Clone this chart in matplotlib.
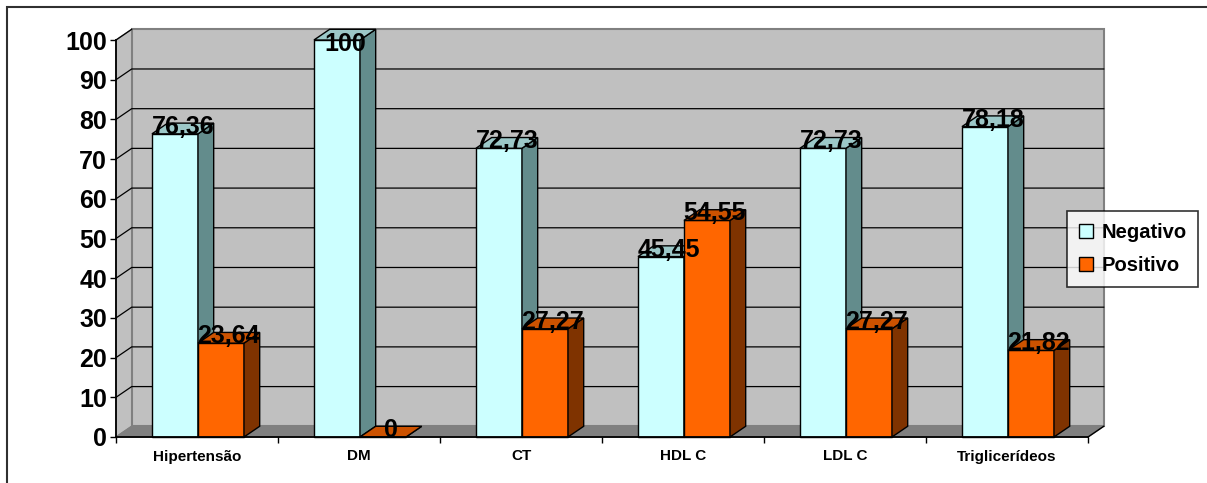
import matplotlib
matplotlib.use("Agg")
import matplotlib.pyplot as plt
from matplotlib.patches import Polygon, Rectangle, Patch

plt.rcParams['font.family'] = ['Liberation Sans', 'DejaVu Sans']
plt.rcParams['font.weight'] = 'bold'

categorias = ['Hipertensão', 'DM', 'CT', 'HDL C', 'LDL C', 'Triglicerídeos']
negativo = [76.36, 100, 72.73, 45.45, 72.73, 78.18]
positivo = [23.64, 0, 27.27, 54.55, 27.27, 21.82]
y_ticks = list(range(0, 101, 10))

# colours for each series: front, top, side
cores = {
    'Negativo': ('#CCFFFF', '#9CC8C8', '#638C8C'),
    'Positivo': ('#FF6600', '#CC5200', '#7F3300'),
}

W, H = 1207, 483
fig = plt.figure(figsize=(W / 100, H / 100), dpi=100)

# outer chart border
fig.patches.append(Rectangle((7 / W, -0.05), 1.1, (H - 7) / H + 0.05,
                             transform=fig.transFigure, fill=False,
                             edgecolor='#303030', lw=1.5))

ax = fig.add_axes([116 / W, 46 / H, 972 / W, 397 / H])
ax.set_xlim(0, len(categorias))
ax.set_ylim(0, 100)
ax.patch.set_visible(False)

dx, dy = 0.097, 2.7   # depth offset of the 3D box
n = len(categorias)

# walls and floor
ax.add_patch(Polygon([(0, 0), (dx, dy), (dx, 100 + dy), (0, 100)], closed=True,
                     facecolor='#C0C0C0', edgecolor='#808080', lw=1, zorder=0, clip_on=False))
ax.add_patch(Polygon([(dx, dy), (n + dx, dy), (n + dx, 100 + dy), (dx, 100 + dy)], closed=True,
                     facecolor='#C0C0C0', edgecolor='#808080', lw=1.5, zorder=0, clip_on=False))
ax.add_patch(Polygon([(0, 0), (n, 0), (n + dx, dy), (dx, dy)], closed=True,
                     facecolor='#808080', edgecolor='#808080', lw=1, zorder=0.5, clip_on=False))
ax.plot([n, n + dx], [0, dy], color='black', lw=1, zorder=0.6, clip_on=False)

# gridlines across side wall and back wall
for v in y_ticks[1:-1]:
    ax.plot([0, dx, n + dx], [v, v + dy, v + dy], color='black', lw=0.9,
            zorder=0.7, clip_on=False)
ax.plot([0, dx], [100, 100 + dy], color='black', lw=0.9, zorder=0.7, clip_on=False)


def barra_3d(x0, x1, v, front, top, side):
    ax.add_patch(Rectangle((x0, 0), x1 - x0, v, facecolor=front,
                           edgecolor='black', lw=1, zorder=2, clip_on=False))
    ax.add_patch(Polygon([(x1, 0), (x1 + dx, dy), (x1 + dx, v + dy), (x1, v)], closed=True,
                         facecolor=side, edgecolor='black', lw=1, zorder=2, clip_on=False))
    ax.add_patch(Polygon([(x0, v), (x1, v), (x1 + dx, v + dy), (x0 + dx, v + dy)], closed=True,
                         facecolor=top, edgecolor='black', lw=1, zorder=2, clip_on=False))


def rotulo(v):
    return f"{v:g}".replace('.', ',')


largura = 0.284
inicio = 0.222
for i in range(n):
    for j, (nome, valores) in enumerate([('Negativo', negativo), ('Positivo', positivo)]):
        x0 = i + inicio + j * largura
        x1 = x0 + largura
        v = valores[i]
        barra_3d(x0, x1, v, *cores[nome])

# value labels, kept inside the plot area at the top
for i in range(n):
    for j, valores in enumerate([negativo, positivo]):
        x0 = i + inicio + j * largura
        v = valores[i]
        ax.text(x0 + largura / 2 + dx / 2, min(v, 97.3), rotulo(v), ha='center', va='baseline',
                fontsize=18, fontweight='bold', zorder=5, clip_on=False)

# axes
for s in ['top', 'right']:
    ax.spines[s].set_visible(False)
for s in ['left', 'bottom']:
    ax.spines[s].set_color('black')
    ax.spines[s].set_linewidth(1.3)
    ax.spines[s].set_zorder(3)

ax.set_yticks(y_ticks)
ax.set_yticklabels([str(t) for t in y_ticks], fontsize=18, fontweight='bold')
ax.tick_params(axis='y', direction='out', length=4.5, width=1, pad=2)

ax.set_xticks(range(n + 1))
ax.set_xticklabels([])
ax.set_xticks([i + 0.5 for i in range(n)], minor=True)
ax.set_xticklabels(categorias, minor=True, fontsize=11, fontweight='bold')
ax.tick_params(axis='x', which='major', direction='out', length=4.5, width=1)
ax.tick_params(axis='x', which='minor', length=0, pad=9)

handles = [Patch(facecolor=cores[k][0], edgecolor='black', lw=1) for k in cores]
leg = fig.legend(handles, list(cores.keys()), loc='upper left',
                 bbox_to_anchor=(1067 / W, 1 - 211 / H), frameon=True, fancybox=False,
                 prop={'size': 14.5, 'weight': 'bold'}, handlelength=0.7, handleheight=0.7,
                 handletextpad=0.4, labelspacing=0.7, borderpad=0.6, borderaxespad=0)
leg.get_frame().set_edgecolor('black')
leg.get_frame().set_linewidth(1.2)
leg.set_zorder(10)

fig.savefig('out.png', dpi=100)
